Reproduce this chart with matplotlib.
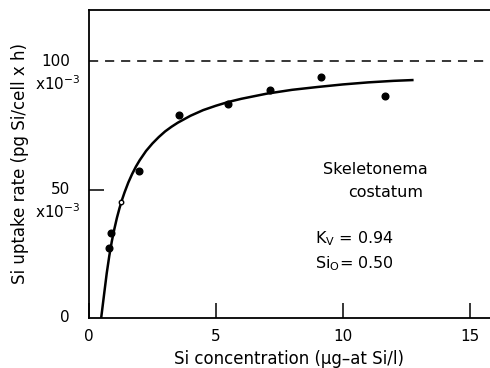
import matplotlib
matplotlib.use("Agg")
import matplotlib.pyplot as plt

# measured points (Si concentration, uptake rate x1e-3)
si_conc = [0.79, 0.87, 1.96, 3.54, 5.48, 7.14, 9.14, 11.65]
uptake = [27.1, 33.3, 57.3, 79.0, 83.4, 89.0, 93.9, 86.4]

# open-circle point
open_conc = [1.27]
open_uptake = [45.3]

# fitted curve
curve_conc = [0.48, 0.6, 0.7, 0.8, 0.9, 1.0, 1.1, 1.2, 1.3, 1.4, 1.55, 1.7, 1.85,
              2.0, 2.25, 2.5, 2.75, 3.0, 3.25, 3.5, 4.0, 4.5, 5.0, 5.5, 6.0,
              7.0, 8.0, 9.0, 10.0, 11.0, 12.0, 12.74]
curve_uptake = [0.0, 9.6, 17.5, 24.2, 29.9, 34.7, 39.0, 42.7, 46.0, 48.9, 52.8, 56.1, 59.0,
                61.5, 65.1, 68.0, 70.5, 72.7, 74.5, 76.1, 78.8, 81.0, 82.7, 84.2, 85.4,
                87.4, 88.9, 90.0, 91.0, 91.8, 92.4, 92.7]

v_max = 100
x_ticks = [0, 5, 10, 15]

plt.rcParams["font.family"] = ["DejaVu Sans"]

fig = plt.figure(figsize=(4.9, 3.68), dpi=100)
ax = fig.add_axes([0.1816, 0.1359, 0.8184, 0.8369])

ax.plot(curve_conc, curve_uptake, color="black", lw=1.8, solid_joinstyle="round")
ax.plot(si_conc, uptake, "o", color="black", ms=4.8)
ax.plot(open_conc, open_uptake, "o", mfc="white", mec="black", ms=3.2, mew=1)
ax.axhline(v_max, color="black", lw=1.1, linestyle=(0, (6, 4.5)))

ax.set_xlim(0, 15.8)
ax.set_ylim(0, 120)

ax.spines["right"].set_visible(False)
for side in ["left", "bottom", "top"]:
    ax.spines[side].set_linewidth(1.3)

ax.set_xticks(x_ticks)
ax.set_xticklabels([str(t) for t in x_ticks], fontsize=11)
ax.tick_params(axis="x", direction="in", length=11, width=1.1, pad=8)
ax.set_yticks([50])
ax.set_yticklabels([])
ax.tick_params(axis="y", direction="in", length=11, width=1.1)

# y tick labels with the x10^-3 factor underneath
ax.text(-0.75, 100, "100", ha="right", va="center", fontsize=11)
ax.text(-0.35, 91.5, r"x10$^{-3}$", ha="right", va="center", fontsize=11)
ax.text(-0.75, 50, "50", ha="right", va="center", fontsize=11)
ax.text(-0.35, 41.5, r"x10$^{-3}$", ha="right", va="center", fontsize=11)
ax.text(-0.75, 0, "0", ha="right", va="center", fontsize=11)

ax.set_xlabel(u"Si concentration (\u00b5g\u2013at Si/l)", fontsize=12, labelpad=4)
fig.text(0.04, 0.555, "Si uptake rate (pg Si/cell x h)", rotation=90,
         ha="center", va="center", fontsize=12)

ax.text(11.3, 58, "Skeletonema", ha="center", va="center", fontsize=11.5)
ax.text(11.7, 49, "costatum", ha="center", va="center", fontsize=11.5)
ax.text(8.9, 31, r"K$_\mathregular{V}$ = 0.94", ha="left", va="center", fontsize=11.5)
ax.text(8.9, 21, r"Si$_\mathregular{O}$= 0.50", ha="left", va="center", fontsize=11.5)

fig.savefig("out.png", dpi=100)
